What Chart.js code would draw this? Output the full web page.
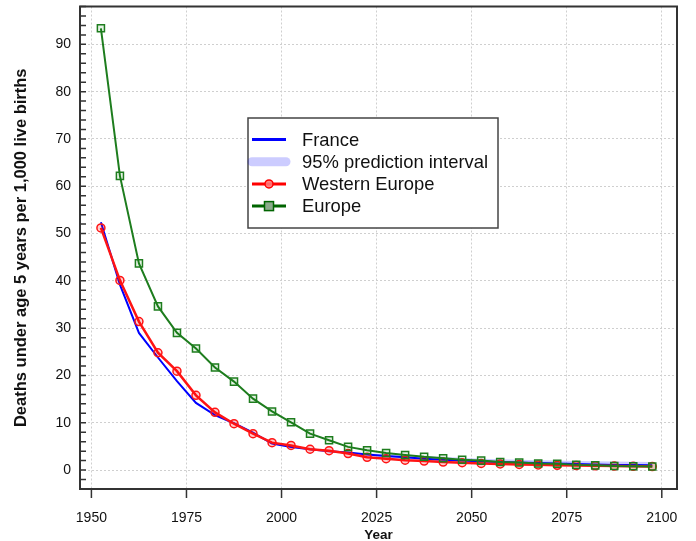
<!DOCTYPE html>
<html>
<head>
<meta charset="utf-8">
<script src="https://cdn.jsdelivr.net/npm/chart.js@4"></script>
<style>
  html, body { margin: 0; padding: 0; background: #fff; }
  canvas { display: block; }
</style>
</head>
<body>
<canvas id="chart" width="696" height="541"></canvas>
<script>
const years = [1952.5, 1957.5, 1962.5, 1967.5, 1972.5, 1977.5, 1982.5, 1987.5, 1992.5, 1997.5,
  2002.5, 2007.5, 2012.5, 2017.5, 2022.5, 2027.5, 2032.5, 2037.5, 2042.5, 2047.5,
  2052.5, 2057.5, 2062.5, 2067.5, 2072.5, 2077.5, 2082.5, 2087.5, 2092.5, 2097.5];

const france = [52.4, 39.2, 29.0, 23.8, 18.8, 14.2, 11.6, 9.9, 7.9, 5.6,
  4.9, 4.4, 4.0, 3.7, 3.3, 3.0, 2.7, 2.4, 2.2, 2.0,
  1.8, 1.7, 1.6, 1.5, 1.4, 1.3, 1.2, 1.1, 1.05, 1.0];

const franceLow = [null, null, null, null, null, null, null, null, null, null,
  null, null, null, 3.7, 3.1, 2.6, 2.3, 2.0, 1.8, 1.6,
  1.4, 1.3, 1.2, 1.1, 1.0, 0.9, 0.8, 0.7, 0.65, 0.6];

const franceHigh = [null, null, null, null, null, null, null, null, null, null,
  null, null, null, 3.7, 3.5, 3.4, 3.2, 3.0, 2.8, 2.6,
  2.4, 2.3, 2.2, 2.1, 2.0, 1.9, 1.85, 1.8, 1.75, 1.7];

const westernEurope = [51.2, 40.1, 31.4, 24.8, 20.9, 15.8, 12.2, 9.8, 7.7, 5.8,
  5.2, 4.4, 4.1, 3.5, 2.7, 2.4, 2.1, 1.9, 1.7, 1.55,
  1.4, 1.3, 1.2, 1.1, 1.0, 0.95, 0.9, 0.85, 0.8, 0.75];

const europe = [93.4, 62.2, 43.7, 34.6, 29.0, 25.7, 21.7, 18.7, 15.1, 12.4,
  10.1, 7.7, 6.3, 4.9, 4.2, 3.6, 3.2, 2.8, 2.5, 2.2,
  2.0, 1.7, 1.6, 1.4, 1.35, 1.1, 1.0, 0.85, 0.8, 0.75];

const xTickValues = [1950, 1975, 2000, 2025, 2050, 2075, 2100];
const yTickValues = [0, 10, 20, 30, 40, 50, 60, 70, 80, 90];
const yMinorStep = 2;

const FONT = "'Liberation Sans', Arial, Helvetica, sans-serif";

const toPoints = (vals) => years
  .map((x, i) => ({ x: x, y: vals[i] }))
  .filter((p) => p.y !== null);

// frame box, inward minor ticks on y, outward ticks on x
const frameTicks = {
  id: "frameTicks",
  afterDraw(chart) {
    const { ctx, chartArea: a, scales: { x, y } } = chart;
    ctx.save();
    ctx.strokeStyle = "#333";
    ctx.lineWidth = 1.5;
    ctx.beginPath();
    for (let v = Math.ceil(y.min / yMinorStep) * yMinorStep; v <= y.max; v += yMinorStep) {
      const py = y.getPixelForValue(v);
      ctx.moveTo(a.left, py);
      ctx.lineTo(a.left + 6, py);
    }
    xTickValues.forEach((v) => {
      const px = x.getPixelForValue(v);
      ctx.moveTo(px, a.bottom);
      ctx.lineTo(px, a.bottom + 9);
    });
    ctx.stroke();
    ctx.lineWidth = 2;
    ctx.strokeRect(a.left, a.top, a.right - a.left, a.bottom - a.top);
    ctx.restore();
  },
};

const legendItems = [
  { label: "France", kind: "line", color: "rgb(0,0,255)" },
  { label: "95% prediction interval", kind: "band", color: "rgba(0,0,255,0.2)" },
  { label: "Western Europe", kind: "circle", color: "rgb(255,0,0)" },
  { label: "Europe", kind: "square", color: "rgb(0,100,0)" },
];

const legendBox = {
  id: "legendBox",
  afterDraw(chart) {
    const ctx = chart.ctx;
    const bx = 248, by = 118, bw = 250, bh = 110;
    ctx.save();
    ctx.fillStyle = "#fff";
    ctx.fillRect(bx, by, bw, bh);
    ctx.strokeStyle = "#444";
    ctx.lineWidth = 1.5;
    ctx.strokeRect(bx, by, bw, bh);
    ctx.font = "18.4px " + FONT;
    ctx.textBaseline = "middle";
    legendItems.forEach((it, i) => {
      const ry = 139.5 + i * 22.2;
      ctx.beginPath();
      ctx.moveTo(252, ry);
      ctx.lineTo(286, ry);
      ctx.strokeStyle = it.color;
      if (it.kind === "band") {
        ctx.lineWidth = 9;
        ctx.lineCap = "round";
      } else {
        ctx.lineWidth = 3;
        ctx.lineCap = "butt";
      }
      ctx.stroke();
      ctx.lineWidth = 1.5;
      if (it.kind === "circle") {
        ctx.beginPath();
        ctx.arc(269, ry, 4, 0, Math.PI * 2);
        ctx.fillStyle = "rgba(255,120,120,0.9)";
        ctx.fill();
        ctx.stroke();
      } else if (it.kind === "square") {
        ctx.fillStyle = "rgb(140,170,140)";
        ctx.fillRect(264.5, ry - 4.5, 9, 9);
        ctx.strokeRect(264.5, ry - 4.5, 9, 9);
      }
      ctx.fillStyle = "#111";
      ctx.fillText(it.label, 302, ry + 1);
    });
    ctx.restore();
  },
};

new Chart(document.getElementById("chart"), {
  type: "line",
  data: {
    datasets: [
      {
        label: "lower",
        data: toPoints(franceLow),
        borderWidth: 0,
        pointRadius: 0,
        fill: false,
        order: 4,
      },
      {
        label: "95% prediction interval",
        data: toPoints(franceHigh),
        borderWidth: 0,
        pointRadius: 0,
        backgroundColor: "rgba(0,0,255,0.2)",
        fill: "-1",
        order: 3,
      },
      {
        label: "France",
        data: toPoints(france),
        borderColor: "rgb(0,0,255)",
        borderWidth: 2,
        pointRadius: 0,
        fill: false,
        order: 2,
      },
      {
        label: "Western Europe",
        data: toPoints(westernEurope),
        borderColor: "rgb(255,20,20)",
        borderWidth: 2.5,
        pointStyle: "circle",
        pointRadius: 4,
        pointBorderWidth: 1.5,
        pointBorderColor: "rgb(255,20,20)",
        pointBackgroundColor: "rgba(255,0,0,0.2)",
        fill: false,
        order: 1,
      },
      {
        label: "Europe",
        data: toPoints(europe),
        borderColor: "rgb(30,125,30)",
        borderWidth: 2,
        pointStyle: "rect",
        pointRadius: 5,
        pointBorderWidth: 1.5,
        pointBorderColor: "rgb(30,125,30)",
        pointBackgroundColor: "rgba(0,128,0,0.1)",
        fill: false,
        order: 0,
      },
    ],
  },
  options: {
    responsive: false,
    animation: false,
    devicePixelRatio: 1,
    layout: { padding: { top: 6, right: 19, bottom: 0, left: 0 } },
    plugins: {
      legend: { display: false },
      tooltip: { enabled: false },
    },
    elements: { line: { tension: 0 } },
    scales: {
      x: {
        type: "linear",
        min: 1947,
        max: 2104,
        afterBuildTicks: (s) => { s.ticks = xTickValues.map((v) => ({ value: v })); },
        afterFit: (s) => { s.height = 52; s.paddingLeft = 0; s.paddingRight = 0; },
        grid: { color: "#cfcfcf", lineWidth: 1, drawTicks: false },
        border: { display: false, dash: [2, 2] },
        ticks: {
          padding: 21,
          autoSkip: false,
          maxRotation: 0,
          color: "#111",
          font: { family: FONT, size: 14 },
          callback: (v) => String(v),
        },
        title: {
          display: true,
          text: "Year",
          color: "#111",
          font: { family: FONT, size: 13.5, weight: "bold" },
          padding: { top: 0, bottom: -2 },
        },
      },
      y: {
        type: "linear",
        min: -4,
        max: 98,
        afterBuildTicks: (s) => { s.ticks = yTickValues.map((v) => ({ value: v })); },
        afterFit: (s) => { s.width = 80; s.paddingTop = 0; s.paddingBottom = 0; },
        grid: { color: "#cfcfcf", lineWidth: 1, drawTicks: false },
        border: { display: false, dash: [2, 2] },
        ticks: {
          padding: 9,
          color: "#111",
          font: { family: FONT, size: 14 },
          callback: (v) => String(v),
        },
        title: {
          display: true,
          text: "Deaths under age 5 years per 1,000 live births",
          color: "#111",
          font: { family: FONT, size: 16.5, weight: "bold" },
          padding: { top: 12, bottom: 0 },
        },
      },
    },
  },
  plugins: [frameTicks, legendBox],
});
</script>
</body>
</html>
